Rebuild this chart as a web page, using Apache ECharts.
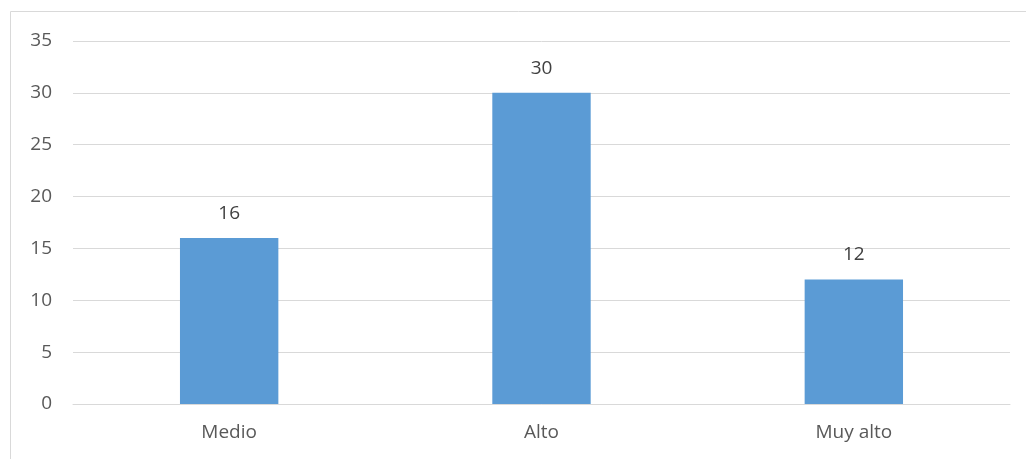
<!DOCTYPE html>
<html><head><meta charset="utf-8">
<script src="https://cdn.jsdelivr.net/npm/echarts@6/dist/echarts.min.js"></script>
<style>html,body{margin:0;padding:0;background:#fff}#c{width:1026px;height:459px}</style>
</head><body><div id="c"></div>
<script>
const categories = ['Medio', 'Alto', 'Muy alto'];
const values = [16, 30, 12];
const yTicks = [0, 5, 10, 15, 20, 25, 30, 35];

const chart = echarts.init(document.getElementById('c'));
chart.setOption({
  animation: false,
  textStyle: { fontFamily: 'Open Sans', color: '#595959' },
  graphic: [{
    type: 'rect', shape: { x: 10.5, y: 11.5, width: 1100, height: 600 },
    style: { fill: 'none', stroke: '#d9d9d9', lineWidth: 1 }, silent: true
  }],
  grid: { left: 73, right: 16, top: 41, bottom: 55 },
  xAxis: {
    type: 'category', data: categories,
    axisLine: { lineStyle: { color: '#d9d9d9', width: 1 } },
    axisTick: { show: false },
    axisLabel: { color: '#595959', fontSize: 19, margin: 19, fontFamily: 'Open Sans' }
  },
  yAxis: {
    type: 'value', min: yTicks[0], max: yTicks[yTicks.length - 1], interval: 5,
    axisLine: { show: false }, axisTick: { show: false },
    splitLine: { lineStyle: { color: '#d9d9d9', width: 1 } },
    axisLabel: { color: '#595959', fontSize: 19, margin: 21, fontFamily: 'Open Sans' }
  },
  series: [{
    type: 'bar', data: values, barWidth: '31.5%',
    itemStyle: { color: '#5b9bd5' },
    label: { show: true, position: 'top', distance: 15, color: '#404040', fontSize: 19, fontFamily: 'Open Sans' }
  }]
});
</script></body></html>
